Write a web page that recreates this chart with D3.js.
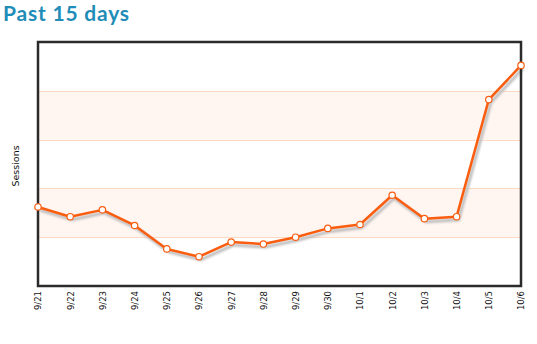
<!DOCTYPE html>
<html>
<head>
<meta charset="utf-8">
<script src="https://cdn.jsdelivr.net/npm/d3@7"></script>
<style>
  html, body { margin: 0; padding: 0; background: #fff; }
  svg { display: block; }
</style>
</head>
<body>
<svg id="chart" width="537" height="344"></svg>
<script>
// Daily sessions over the last 15 days
const days = ["9/21","9/22","9/23","9/24","9/25","9/26","9/27","9/28","9/29","9/30","10/1","10/2","10/3","10/4","10/5","10/6"];
const sessions = [81, 71, 78, 62, 38, 30, 45, 43, 50, 59, 63, 93, 69, 71, 191, 226];
const yTicks = [0, 50, 100, 150, 200, 250];

const svg = d3.select("#chart");
const margin = { left: 38, right: 16, top: 42, bottom: 58 };
const W = 537, H = 344;

const x = d3.scalePoint().domain(days).range([margin.left, W - margin.right]);
const y = d3.scaleLinear().domain([0, 250]).range([H - margin.bottom, margin.top]);

// Title
svg.append("text")
  .attr("x", 3).attr("y", 21)
  .attr("font-family", "Lato, sans-serif")
  .attr("font-weight", 700)
  .attr("font-size", 21)
  .attr("letter-spacing", 0.8)
  .attr("fill", "#1f8db8")
  .text("Past 15 days");

// Alternating bands
const bands = [[50, 100], [150, 200]];
svg.selectAll("rect.band").data(bands).enter().append("rect")
  .attr("class", "band")
  .attr("x", margin.left)
  .attr("width", W - margin.right - margin.left)
  .attr("y", d => y(d[1]))
  .attr("height", d => y(d[0]) - y(d[1]))
  .attr("fill", "#fff5f1");

// Horizontal grid lines
svg.selectAll("line.grid").data(yTicks.slice(1, -1)).enter().append("line")
  .attr("class", "grid")
  .attr("x1", margin.left).attr("x2", W - margin.right)
  .attr("y1", d => Math.round(y(d)) + 0.5).attr("y2", d => Math.round(y(d)) + 0.5)
  .attr("stroke", "#fdd9c4").attr("stroke-width", 1);

// Shadow under the line
const defs = svg.append("defs");
defs.append("filter").attr("id", "soft")
  .append("feGaussianBlur").attr("stdDeviation", 0.8);

const line = d3.line().x((d, i) => x(days[i])).y(d => y(d));

svg.append("path")
  .datum(sessions)
  .attr("d", line)
  .attr("transform", "translate(2,3)")
  .attr("fill", "none")
  .attr("stroke", "#bdbdbd")
  .attr("stroke-width", 3)
  .attr("filter", "url(#soft)");

// Frame
svg.append("rect")
  .attr("x", margin.left).attr("y", margin.top)
  .attr("width", W - margin.right - margin.left)
  .attr("height", H - margin.bottom - margin.top)
  .attr("fill", "none")
  .attr("stroke", "#2b2b2b")
  .attr("stroke-width", 2.5);

// Session line
svg.append("path")
  .datum(sessions)
  .attr("d", line)
  .attr("fill", "none")
  .attr("stroke", "#fa5d0f")
  .attr("stroke-width", 2.5)
  .attr("stroke-linejoin", "round");

svg.selectAll("circle.pt").data(sessions).enter().append("circle")
  .attr("class", "pt")
  .attr("cx", (d, i) => x(days[i]))
  .attr("cy", d => y(d))
  .attr("r", 3.2)
  .attr("fill", "#fff")
  .attr("stroke", "#fa5d0f")
  .attr("stroke-width", 1.2);

// X axis labels (rotated)
const xAxis = d3.axisBottom(x).tickSize(0).tickPadding(0);
const gx = svg.append("g")
  .attr("transform", `translate(0,${H - margin.bottom})`)
  .call(xAxis);
gx.select(".domain").remove();
gx.selectAll("text")
  .attr("font-family", "'DejaVu Sans', sans-serif")
  .attr("font-size", 8.5)
  .attr("fill", "#111")
  .attr("text-anchor", "end")
  .attr("dy", "0.35em")
  .attr("transform", "translate(0,5) rotate(-90)")
  .attr("y", 0).attr("x", 0);

// Y axis title
svg.append("text")
  .attr("transform", "translate(19,166) rotate(-90)")
  .attr("text-anchor", "middle")
  .attr("font-family", "'DejaVu Sans', sans-serif")
  .attr("font-size", 9.5)
  .attr("fill", "#111")
  .text("Sessions");
</script>
</body>
</html>
